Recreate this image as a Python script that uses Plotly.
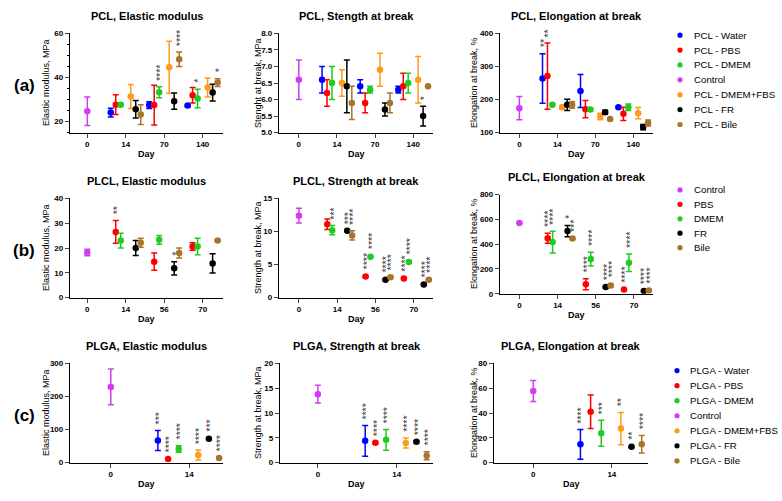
import plotly.graph_objects as go

W, H = 782, 501
FONT = "Liberation Sans, Arial, sans-serif"

COLORS = {"Water": "#0000FF", "PBS": "#FF0000", "DMEM": "#1ECC1E", "Control": "#D23CF2",
          "DMEM+FBS": "#FF9A1A", "FR": "#000000", "Bile": "#A8742C"}

# ---------------- data ----------------
pcl_days = ["0", "14", "70", "140"]
plcl_days = ["0", "14", "56", "70"]
plga_days = ["0", "14"]

# PCL elastic modulus (MPa): control [mean, sd]; series per day 14/70/140
pcl_mod_control = [24.7, 6.5]
pcl_mod_mean = {"Water": [24.1, 27.5, 27.3], "PBS": [27.7, 27.5, 32.0], "DMEM": [27.7, 33.3, 30.5],
                "DMEM+FBS": [31.4, 44.7, 35.5], "FR": [25.6, 29.3, 33.2], "Bile": [23.2, 48.3, 37.7]}
pcl_mod_sd = {"Water": [2.0, 1.5, 0.5], "PBS": [4.5, 9.0, 3.5], "DMEM": [0.5, 2.5, 4.2],
              "DMEM+FBS": [5.4, 11.8, 4.3], "FR": [4.0, 3.7, 3.8], "Bile": [4.5, 3.3, 1.8]}
pcl_mod_stars = {"DMEM": ["", "****", "*"], "Bile": ["", "****", "*"]}

# PCL strength at break (MPa)
pcl_str_control = [6.6, 0.6]
pcl_str_mean = {"Water": [6.6, 6.4, 6.3], "PBS": [6.2, 5.9, 6.4], "DMEM": [6.5, 6.3, 6.5],
                "DMEM+FBS": [6.5, 6.9, 6.6], "FR": [6.4, 5.7, 5.5], "Bile": [5.9, 5.9, 6.4]}
pcl_str_sd = {"Water": [0.4, 0.2, 0.1], "PBS": [0.4, 0.3, 0.4], "DMEM": [0.5, 0.1, 0.3],
              "DMEM+FBS": [0.4, 0.5, 0.7], "FR": [0.8, 0.2, 0.3], "Bile": [0.5, 0.3, 0.03]}
pcl_str_stars = {"FR": ["", "", "*"]}

# PCL elongation at break (%)
pcl_elo_control = [174, 35]
pcl_elo_mean = {"Water": [264, 226, 177], "PBS": [271, 171, 157], "DMEM": [184, 170, 177],
                "DMEM+FBS": [177, 149, 159], "FR": [184, 162, 117], "Bile": [184, 141, 129]}
pcl_elo_sd = {"Water": [75, 50, 3], "PBS": [100, 26, 20], "DMEM": [4, 4, 10],
              "DMEM+FBS": [6, 10, 17], "FR": [17, 6, 8], "Bile": [10, 3, 9]}
pcl_elo_stars = {"Water": ["**", "", ""], "PBS": ["**", "", ""]}

# PLCL elastic modulus (MPa)
plcl_mod_control = [18.2, 1.3]
plcl_mod_mean = {"PBS": [26.5, 14.5, 20.6], "DMEM": [23.0, 23.3, 20.6],
                 "FR": [20.0, 11.8, 13.8], "Bile": [22.1, 18.0, 23.0]}
plcl_mod_sd = {"PBS": [4.6, 3.5, 1.5], "DMEM": [3.0, 1.8, 3.3],
               "FR": [3.0, 2.7, 3.9], "Bile": [1.8, 2.0, 0.3]}
plcl_mod_stars = {"PBS": ["**", "", ""], "FR": ["", "*", ""]}

# PLCL strength at break (MPa)
plcl_str_control = [12.4, 1.1]
plcl_str_mean = {"PBS": [11.1, 3.2, 2.9], "DMEM": [10.2, 6.2, 5.4],
                 "FR": [10.1, 2.7, 2.0], "Bile": [9.4, 3.1, 2.7]}
plcl_str_sd = {"PBS": [0.8, 0.1, 0.1], "DMEM": [0.7, 0.15, 0.2],
               "FR": [0.1, 0.1, 0.1], "Bile": [0.7, 0.15, 0.1]}
plcl_str_stars = {"PBS": ["", "****", "****"], "DMEM": ["***", "****", "****"],
                  "FR": ["***", "****", "****"], "Bile": ["****", "****", "****"]}

# PLCL elongation at break (%)
plcl_elo_control = [571, 5]
plcl_elo_mean = {"PBS": [447, 76, 34], "DMEM": [416, 279, 250],
                 "FR": [505, 53, 21], "Bile": [445, 66, 26]}
plcl_elo_sd = {"PBS": [40, 45, 5], "DMEM": [87, 55, 70],
               "FR": [45, 5, 5], "Bile": [8, 15, 5]}
plcl_elo_stars = {"PBS": ["****", "****", "****"], "DMEM": ["****", "****", "****"],
                  "FR": ["*", "****", "****"], "Bile": ["***", "****", "****"]}

# PLGA elastic modulus (MPa)
plga_mod_control = [229, 54]
plga_mod_mean = {"Water": [67], "PBS": [11], "DMEM": [41], "DMEM+FBS": [23], "FR": [72], "Bile": [14]}
plga_mod_sd = {"Water": [30], "PBS": [2], "DMEM": [10], "DMEM+FBS": [15], "FR": [3], "Bile": [2]}
plga_mod_stars = {"Water": ["***"], "PBS": ["****"], "DMEM": ["****"], "DMEM+FBS": ["****"],
                  "FR": ["***"], "Bile": ["****"]}

# PLGA strength at break (MPa)
plga_str_control = [13.8, 1.8]
plga_str_mean = {"Water": [4.4], "PBS": [4.0], "DMEM": [4.6], "DMEM+FBS": [3.95], "FR": [4.2], "Bile": [1.4]}
plga_str_sd = {"Water": [3.1], "PBS": [0.2], "DMEM": [2.1], "DMEM+FBS": [1.0], "FR": [0.2], "Bile": [0.8]}
plga_str_stars = {"Water": ["****"], "PBS": ["****"], "DMEM": ["****"], "DMEM+FBS": ["****"],
                  "FR": ["****"], "Bile": ["****"]}

# PLGA elongation at break (%)
plga_elo_control = [57.8, 8.5]
plga_elo_mean = {"Water": [14.8], "PBS": [41], "DMEM": [23.7], "DMEM+FBS": [27.5], "FR": [12.7], "Bile": [14.8]}
plga_elo_sd = {"Water": [12], "PBS": [13.5], "DMEM": [10.5], "DMEM+FBS": [13], "FR": [0.5], "Bile": [7]}
plga_elo_stars = {"Water": ["****"], "DMEM": ["***"], "DMEM+FBS": ["**"], "FR": ["**"], "Bile": ["****"]}

pcl_legend = ["PCL - Water", "PCL - PBS", "PCL - DMEM", "Control", "PCL - DMEM+FBS", "PCL - FR", "PCL - Bile"]
pcl_legend_keys = ["Water", "PBS", "DMEM", "Control", "DMEM+FBS", "FR", "Bile"]
plcl_legend = ["Control", "PBS", "DMEM", "FR", "Bile"]
plcl_legend_keys = ["Control", "PBS", "DMEM", "FR", "Bile"]
plga_legend = ["PLGA - Water", "PLGA - PBS", "PLGA - DMEM", "Control", "PLGA - DMEM+FBS", "PLGA - FR", "PLGA - Bile"]
plga_legend_keys = pcl_legend_keys

# ---------------- layout helpers ----------------
pcl_offsets = {"Water": -0.39, "PBS": -0.26, "DMEM": -0.13, "DMEM+FBS": 0.13, "FR": 0.26, "Bile": 0.39}
plga_offsets = {"Water": -0.40, "PBS": -0.27, "DMEM": -0.135, "DMEM+FBS": 0.115, "FR": 0.25, "Bile": 0.38}

col_px = [[(70, 223), (279, 433), (500, 653)],
          [(70, 223), (279, 433), (500, 653)],
          [(70, 223), (280, 433), (494, 648)]]
row_px = [[(30, 131), (30, 131), (30, 131)],
          [(198, 299), (198, 299), (194, 295)],
          [(366, 467), (366, 467), (366, 467)]]

panels = [
    ("PCL, Elastic modulus", "Elastic modulus, MPa", pcl_days, pcl_mod_control, pcl_mod_mean, pcl_mod_sd, pcl_mod_stars, [15, 60], [20, 40, 60], pcl_offsets, [-0.45, 3.53], 5),
    ("PCL, Stength at break", "Stenght at break, MPa", pcl_days, pcl_str_control, pcl_str_mean, pcl_str_sd, pcl_str_stars, [5, 8], [5, 5.5, 6, 6.5, 7, 7.5, 8], pcl_offsets, [-0.52, 3.52], None),
    ("PCL, Elongation at break", "Elongation at break, %", pcl_days, pcl_elo_control, pcl_elo_mean, pcl_elo_sd, pcl_elo_stars, [100, 400], [100, 200, 300, 400], pcl_offsets, [-0.51, 3.52], None),
    ("PLCL, Elastic modulus", "Elastic modulus, MPa", plcl_days, plcl_mod_control, plcl_mod_mean, plcl_mod_sd, plcl_mod_stars, [0, 40], [0, 10, 20, 30, 40], pcl_offsets, [-0.45, 3.53], None),
    ("PLCL, Strength at break", "Strength at break, MPa", plcl_days, plcl_str_control, plcl_str_mean, plcl_str_sd, plcl_str_stars, [0, 15], [0, 5, 10, 15], pcl_offsets, [-0.52, 3.5], None),
    ("PLCL, Elongation at break", "Elongation at break, %", plcl_days, plcl_elo_control, plcl_elo_mean, plcl_elo_sd, plcl_elo_stars, [0, 800], [0, 200, 400, 600, 800], pcl_offsets, [-0.51, 3.5], None),
    ("PLGA, Elastic modulus", "Elastic modulus, MPa", plga_days, plga_mod_control, plga_mod_mean, plga_mod_sd, plga_mod_stars, [0, 300], [0, 100, 200, 300], plga_offsets, [-0.52, 1.43], None),
    ("PLGA, Strength at break", "Strength at break, MPa", plga_days, plga_str_control, plga_str_mean, plga_str_sd, plga_str_stars, [0, 20], [0, 5, 10, 15, 20], plga_offsets, [-0.48, 1.46], None),
    ("PLGA, Elongation at break", "Elongation at break, %", plga_days, plga_elo_control, plga_elo_mean, plga_elo_sd, plga_elo_stars, [0, 80], [0, 20, 40, 60, 80], plga_offsets, [-0.5, 1.46], None),
]

fig = go.Figure()
annotations = []
shapes = []
layout = {}

for k, (title, ytitle, days, control, mean, sd, stars, yr, ytv, offs, xr, minor) in enumerate(panels):
    r, c = divmod(k, 3)
    n = k + 1
    xs = "x" if n == 1 else f"x{n}"
    ys = "y" if n == 1 else f"y{n}"
    x0p, x1p = col_px[r][c]
    y0p, y1p = row_px[r][c]
    ticklabels = [f"{v:.1f}" if k == 1 else f"{v:g}" for v in ytv]
    layout["xaxis" if n == 1 else f"xaxis{n}"] = dict(
        domain=[x0p / W, x1p / W], anchor=ys, range=xr, showgrid=False, zeroline=False,
        showline=True, linecolor="black", linewidth=1.3, ticks="outside", ticklen=4, tickwidth=1.3,
        tickvals=list(range(len(days))), ticktext=days,
        tickfont=dict(size=8, family=FONT, color="black", weight="bold"))
    ya = dict(
        domain=[1 - y1p / H, 1 - y0p / H], anchor=xs, range=yr, showgrid=False, zeroline=False,
        showline=True, linecolor="black", linewidth=1.3, ticks="outside", ticklen=4, tickwidth=1.3,
        tickvals=ytv, ticktext=ticklabels,
        tickfont=dict(size=8, family=FONT, color="black", weight="bold"))
    if minor:
        ya["minor"] = dict(dtick=minor, ticks="outside", ticklen=2, tickwidth=1, tickcolor="black")
    layout["yaxis" if n == 1 else f"yaxis{n}"] = ya

    # control
    fig.add_trace(go.Scatter(
        x=[0], y=[control[0]], mode="markers", xaxis=xs, yaxis=ys, showlegend=False,
        marker=dict(color=COLORS["Control"], size=6.5),
        error_y=dict(type="data", array=[control[1]], color=COLORS["Control"], thickness=1.5, width=3)))
    for s, vals in mean.items():
        xpos = [i + 1 + offs[s] for i in range(len(vals))]
        fig.add_trace(go.Scatter(
            x=xpos, y=vals, mode="markers", xaxis=xs, yaxis=ys, showlegend=False,
            marker=dict(color=COLORS[s], size=6.5),
            error_y=dict(type="data", array=sd[s], color=COLORS[s], thickness=1.5, width=3)))
        for i, st in enumerate(stars.get(s, [])):
            if st:
                annotations.append(dict(
                    x=xpos[i], y=vals[i] + sd[s][i], xref=xs, yref=ys, text=st, showarrow=False,
                    textangle=-90, xanchor="center", yanchor="bottom", yshift=4, xshift=1,
                    font=dict(size=10.5, family=FONT, color="#404040")))

    cx = (x0p + x1p) / 2 / W
    annotations.append(dict(x=cx, y=1 - (y0p - 18) / H, xref="paper", yref="paper", text=title,
                            showarrow=False, xanchor="center", yanchor="middle",
                            font=dict(size=11, family=FONT, color="black", weight="bold")))
    annotations.append(dict(x=cx, y=1 - (y1p + 22) / H, xref="paper", yref="paper", text="Day",
                            showarrow=False, xanchor="center", yanchor="middle",
                            font=dict(size=9, family=FONT, color="black", weight="bold")))
    ytx = [46, 258, 474][c]
    annotations.append(dict(x=ytx / W, y=1 - (y0p + y1p) / 2 / H, xref="paper", yref="paper", text=ytitle,
                            showarrow=False, xanchor="center", yanchor="middle", textangle=-90,
                            font=dict(size=9, family=FONT, color="black")))

# panel labels
for lab, py in [("(a)", 83), ("(b)", 251), ("(c)", 419)]:
    annotations.append(dict(x=24 / W, y=1 - py / H, xref="paper", yref="paper", text=lab, showarrow=False,
                            xanchor="center", yanchor="middle",
                            font=dict(size=17, family=FONT, color="black", weight="bold")))

# legends
for names, keys, mx, tx, y0, step in [
        (pcl_legend, pcl_legend_keys, 680, 692, 31.7, 15.17),
        (plcl_legend, plcl_legend_keys, 680, 692, 189.3, 14.7),
        (plga_legend, plga_legend_keys, 677, 688, 373.3, 15.33)]:
    for i, (nm, key) in enumerate(zip(names, keys)):
        py = y0 + i * step
        shapes.append(dict(type="circle", xref="paper", yref="paper", xsizemode="pixel", ysizemode="pixel",
                           xanchor=mx / W, yanchor=1 - py / H, x0=-2.6, x1=2.6, y0=-2.6, y1=2.6,
                           fillcolor=COLORS[key], line=dict(width=0)))
        annotations.append(dict(x=tx / W, y=1 - py / H, xref="paper", yref="paper", text=nm, showarrow=False,
                                xanchor="left", yanchor="middle",
                                font=dict(size=9.7, family=FONT, color="black")))

fig.update_layout(width=W, height=H, margin=dict(l=0, r=0, t=0, b=0), paper_bgcolor="white",
                  plot_bgcolor="white", showlegend=False, annotations=annotations, shapes=shapes,
                  font=dict(family=FONT), **layout)

fig.write_html("out.html", config={"displayModeBar": False},
               post_script="document.body.style.margin='0px';")
